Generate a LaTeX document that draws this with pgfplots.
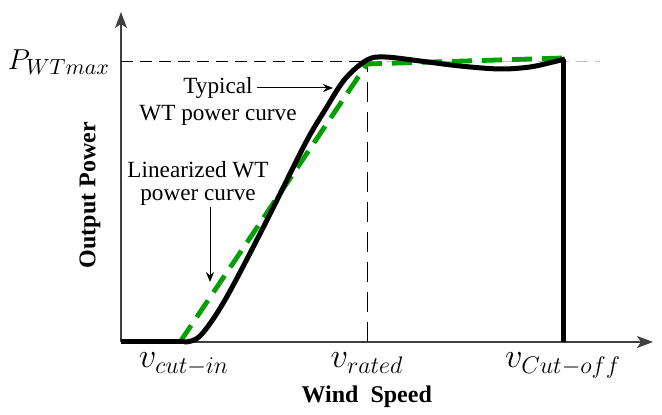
\documentclass[border=0pt]{standalone}
\usepackage{pgfplots}
\pgfplotsset{compat=1.18}
\usetikzlibrary{arrows.meta}
\usepackage{fontspec}
\setmainfont{Liberation Serif}
\definecolor{wtgreen}{RGB}{0,160,0}
\begin{document}
\begin{tikzpicture}
\begin{axis}[
  x=0.5pt, y=0.5pt,
  xmin=121, xmax=653, ymin=0, ymax=330,
  axis lines=left,
  x axis line style={draw=black!75, line width=0.8pt, -{Stealth[length=8pt,width=6pt,inset=2pt]}},
  y axis line style={draw=black!75, line width=0.8pt, -{Stealth[length=8pt,width=6pt,inset=2pt]}},
  clip=false,
  xtick={184,367,563},
  xticklabels={$v_{cut-in}$,$v_{rated}$,$v_{Cut-off}$},
  ytick={280},
  yticklabels={$P_{WTmax}$},
  major tick length=0pt,
  xticklabel style={font=\fontsize{16.5}{18}\selectfont, yshift=-2pt},
  yticklabel style={font=\fontsize{15}{17}\selectfont, xshift=-2pt},
  xlabel={\textbf{Wind\ \ Speed}},
  ylabel={\textbf{Output Power}},
  xlabel style={at={(axis description cs:0.462,-0.1667)}, anchor=center, font=\fontsize{12}{14}\selectfont},
  ylabel style={at={(axis description cs:-0.0583,0.445)}, anchor=center, font=\fontsize{12}{14}\selectfont},
]
% bounding box (pixel frame of reference)
\path (axis cs:0,-67) rectangle (axis cs:662,342);
% reference dashed lines
\addplot[black, line width=0.5pt, dash pattern=on 6pt off 3.5pt] coordinates {(121,280) (367,280)};
\addplot[black!25, line width=0.5pt, dash pattern=on 6pt off 3.5pt] coordinates {(367,280) (600,280)};
\addplot[black, line width=0.5pt, dash pattern=on 10pt off 5pt] coordinates {(367,0) (367,280)};
% linearized curve
\addplot[wtgreen, line width=2.4pt, dash pattern=on 10pt off 5pt] coordinates {(180,0) (367,278) (563,284)};
% typical curve
\addplot[black, line width=2.5pt] coordinates {(121,0) (184,0)};
\addplot[black, line width=2.5pt, smooth, tension=0.55] coordinates {
(184,0) (200,6) (225,42) (265,118) (305,198) (325,232) (345,263) (367,282) (385,285)
(420,281) (460,276) (500,273) (530,275) (553,280) (565,283)};
\addplot[black, line width=2.5pt] coordinates {(563,0) (563,283)};
% annotations
\node[align=center, font=\fontsize{11.6}{13.5}\selectfont] at (axis cs:218,241) {Typical\\WT power curve};
\draw[-{Stealth[length=5pt,width=4pt]}, line width=0.5pt] (axis cs:257,254) -- (axis cs:333,254);
\node[align=center, font=\fontsize{11.6}{11.5}\selectfont] at (axis cs:198,159) {Linearized WT\\power curve};
\draw[-{Stealth[length=5pt,width=4pt]}, line width=0.5pt] (axis cs:210,135) -- (axis cs:210,60);
\end{axis}
\end{tikzpicture}
\end{document}
